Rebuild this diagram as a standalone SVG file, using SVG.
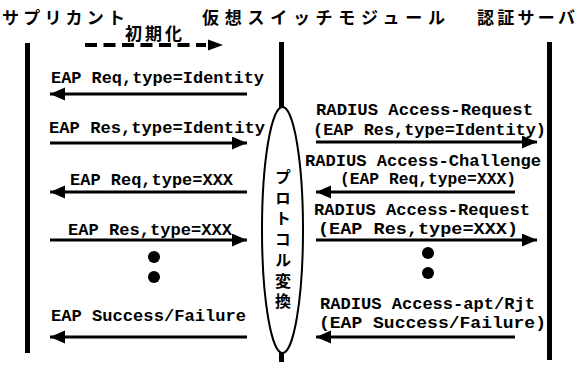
<svg xmlns="http://www.w3.org/2000/svg" width="576" height="369" viewBox="0 0 576 369">
<style>
.jp{font-family:"Noto Sans CJK JP","Noto Sans CJK SC",sans-serif;font-weight:bold;font-size:17px;fill:#000}
.jv{font-family:"Noto Sans CJK JP","Noto Sans CJK SC",sans-serif;font-weight:bold;font-size:16px;fill:#000;writing-mode:vertical-rl;letter-spacing:4.7px}
.lb{font-family:"Liberation Mono","DejaVu Sans Mono",monospace;font-weight:bold;font-size:16px;fill:#000}
.bar{stroke:#000;stroke-width:5;fill:none}
.arr{stroke:#000;stroke-width:3;fill:none;marker-end:url(#ah)}
.dot{fill:#000}
</style>
<defs>
<marker id="ah" markerUnits="userSpaceOnUse" markerWidth="16" markerHeight="14" refX="15" refY="6.5" orient="auto">
<path d="M0,0 L15,6.5 L0,13 z" fill="#000"/>
</marker>
</defs>
<rect width="576" height="369" fill="#fff"/>
<g id="supplicant">
<text class="jp" x="2" y="24" textLength="123" lengthAdjust="spacing">サプリカント</text>
<line class="bar" x1="27.5" y1="43" x2="27.5" y2="353"/>
</g>
<g id="switch">
<text class="jp" x="202" y="24" textLength="243" lengthAdjust="spacing">仮想スイッチモジュール</text>
<line class="bar" x1="281.5" y1="42" x2="281.5" y2="362"/>
<ellipse cx="282.5" cy="230" rx="20.5" ry="123" fill="#fff" stroke="#000" stroke-width="2"/>
<text class="jv" x="283" y="169">プロトコル変換</text>
</g>
<g id="server">
<text class="jp" x="477" y="24" textLength="98" lengthAdjust="spacing">認証サーバ</text>
<line class="bar" x1="549.5" y1="42" x2="549.5" y2="360"/>
</g>
<g id="connectors">
<text class="jp" x="125" y="40" textLength="57" lengthAdjust="spacing">初期化</text>
<line x1="85" y1="45" x2="206" y2="45" stroke="#000" stroke-width="4" stroke-dasharray="12 6.5"/>
<path d="M208,39.5 L223,45 L208,50.5 z" fill="#000"/>

<text class="lb" x="51" y="83" textLength="213" lengthAdjust="spacingAndGlyphs">EAP Req,type=Identity</text>
<line class="arr" x1="247" y1="94" x2="50" y2="94"/>
<text class="lb" x="49" y="133" textLength="216" lengthAdjust="spacingAndGlyphs">EAP Res,type=Identity</text>
<line class="arr" x1="50" y1="143" x2="247" y2="143"/>
<text class="lb" x="70" y="185" textLength="163" lengthAdjust="spacingAndGlyphs">EAP Req,type=XXX</text>
<line class="arr" x1="247" y1="192" x2="50" y2="192"/>
<text class="lb" x="68" y="235" textLength="164" lengthAdjust="spacingAndGlyphs">EAP Res,type=XXX</text>
<line class="arr" x1="50" y1="240" x2="247" y2="240"/>
<circle class="dot" cx="154" cy="257" r="6"/>
<circle class="dot" cx="154" cy="277" r="6"/>
<text class="lb" x="51" y="321" textLength="195" lengthAdjust="spacingAndGlyphs">EAP Success/Failure</text>
<line class="arr" x1="247" y1="337" x2="50" y2="337"/>

<text class="lb" x="316" y="115" textLength="217" lengthAdjust="spacingAndGlyphs">RADIUS Access-Request</text>
<text class="lb" x="313" y="135" textLength="233" lengthAdjust="spacingAndGlyphs">(EAP Res,type=Identity)</text>
<line class="arr" x1="316" y1="142" x2="537" y2="142"/>
<text class="lb" x="305" y="166" textLength="236" lengthAdjust="spacingAndGlyphs">RADIUS Access-Challenge</text>
<text class="lb" x="340" y="184" textLength="176" lengthAdjust="spacingAndGlyphs">(EAP Req,type=XXX)</text>
<line class="arr" x1="515" y1="192" x2="316" y2="192"/>
<text class="lb" x="314" y="215" textLength="216" lengthAdjust="spacingAndGlyphs">RADIUS Access-Request</text>
<text class="lb" x="318" y="234" textLength="200" lengthAdjust="spacingAndGlyphs">(EAP Res,type=XXX)</text>
<line class="arr" x1="316" y1="240" x2="537" y2="240"/>
<circle class="dot" cx="428" cy="253" r="6"/>
<circle class="dot" cx="428" cy="273" r="6"/>
<text class="lb" x="320" y="309" textLength="215" lengthAdjust="spacingAndGlyphs">RADIUS Access-apt/Rjt</text>
<text class="lb" x="319" y="328" textLength="227" lengthAdjust="spacingAndGlyphs">(EAP Success/Failure)</text>
<line class="arr" x1="515" y1="337" x2="316" y2="337"/>
</g>
</svg>
